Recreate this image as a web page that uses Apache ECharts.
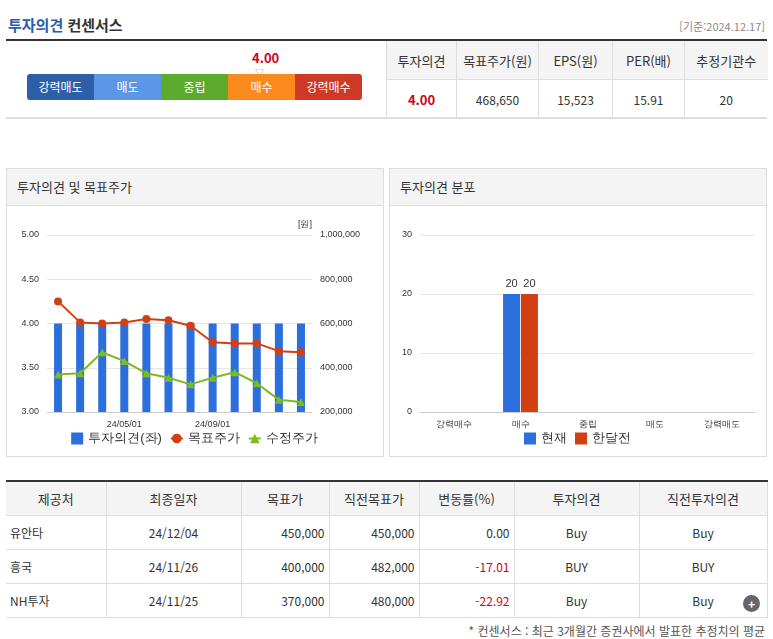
<!DOCTYPE html>
<html lang="ko">
<head>
<meta charset="UTF-8">
<title>투자의견 컨센서스</title>
<script src="https://cdn.jsdelivr.net/npm/echarts@6/dist/echarts.min.js"></script>
<style>
  body { margin: 0; width: 773px; height: 639px; position: relative; font-family: "Noto Sans CJK KR", "Noto Sans", sans-serif; font-size: 12px; color: #333; background: #fff; overflow: hidden; }
  .abs { position: absolute; }
  table { border-collapse: collapse; table-layout: fixed; }
  .top td { text-align: center; height: 38px; border-left: 1px solid #ddd; padding: 0; }
  .top tr:first-child td { background: #f4f4f4; border-bottom: 1px solid #ddd; font-size: 13px; }
  .scale span { display: inline-block; width: 67px; height: 26px; line-height: 26px; text-align: center; color: #fff; font-size: 12px; }
  .panel { border: 1px solid #ddd; }
  .panel .hd { height: 36px; line-height: 36px; background: #f4f4f4; border-bottom: 1px solid #ddd; padding-left: 10px; font-size: 13px; }
  .bot td { height: 33px; padding: 0 4px; border: 1px solid #ddd; border-width: 0 1px 1px 0; font-size: 12px; }
  .bot tr:first-child td { background: #f4f4f4; text-align: center; font-size: 13px; }
</style>
</head>
<body>
<div class="abs" style="left:8px;top:14px;font-size:15px;font-weight:bold;"><span style="color:#2a5db0">투자의견</span> 컨센서스</div>
<div class="abs" style="right:8px;top:18px;color:#888;font-size:11px;">[기준:2024.12.17]</div>
<div class="abs" style="left:6px;top:39px;width:761px;height:2px;background:#333;"></div>
<div class="abs" style="left:6px;top:117px;width:761px;height:2px;background:#ddd;"></div>

<div class="abs" style="left:252px;top:48px;color:#d0021b;font-weight:bold;font-size:13px;">4.00</div>
<div class="abs" style="left:255px;top:66px;color:#999;font-size:9px;">▽</div>
<div class="abs scale" style="left:27px;top:74px;border-radius:3px;overflow:hidden;font-size:0;">
  <span style="background:#2d5fa8">강력매도</span><span style="background:#5b97e5">매도</span><span style="background:#5cab2c">중립</span><span style="background:#fb8a1d">매수</span><span style="background:#cf3a26">강력매수</span>
</div>
<table class="abs top" style="left:386px;top:41px;width:381px;">
  <colgroup><col style="width:70px"><col style="width:82px"><col style="width:74px"><col style="width:72px"><col style="width:83px"></colgroup>
  <tr><td>투자의견</td><td>목표주가(원)</td><td>EPS(원)</td><td>PER(배)</td><td>추정기관수</td></tr>
  <tr><td style="color:#d0021b;font-weight:bold;font-size:13px;">4.00</td><td>468,650</td><td>15,523</td><td>15.91</td><td>20</td></tr>
</table>

<div class="abs panel" style="left:6px;top:168px;width:376px;height:287px;"><div class="hd">투자의견 및 목표주가</div></div>
<div class="abs panel" style="left:389px;top:168px;width:376px;height:287px;"><div class="hd">투자의견 분포</div></div>
<div id="c1" class="abs" style="left:7px;top:206px;width:375px;height:248px;"></div>
<div id="c2" class="abs" style="left:390px;top:206px;width:375px;height:248px;"></div>

<table class="abs bot" style="left:6px;top:480px;width:761px;border-top:2px solid #333;">
  <colgroup><col style="width:100px"><col style="width:135px"><col style="width:88px"><col style="width:90px"><col style="width:95px"><col style="width:125px"><col style="width:128px"></colgroup>
  <tr><td>제공처</td><td>최종일자</td><td>목표가</td><td>직전목표가</td><td>변동률(%)</td><td>투자의견</td><td>직전투자의견</td></tr>
  <tr><td>유안타</td><td align="center">24/12/04</td><td align="right">450,000</td><td align="right">450,000</td><td align="right">0.00</td><td align="center">Buy</td><td align="center">Buy</td></tr>
  <tr><td>흥국</td><td align="center">24/11/26</td><td align="right">400,000</td><td align="right">482,000</td><td align="right" style="color:#d0021b">-17.01</td><td align="center">BUY</td><td align="center">BUY</td></tr>
  <tr><td>NH투자</td><td align="center">24/11/25</td><td align="right">370,000</td><td align="right">480,000</td><td align="right" style="color:#d0021b">-22.92</td><td align="center">Buy</td><td align="center">Buy</td></tr>
</table>
<div class="abs" style="left:743px;top:595px;width:17px;height:17px;border-radius:50%;background:#666;color:#fff;text-align:center;line-height:17px;font-weight:bold;">+</div>
<div class="abs" style="right:8px;top:622px;color:#555;font-size:12px;">* 컨센서스 : 최근 3개월간 증권사에서 발표한 추정치의 평균</div>

<script>
  const dates = ['', '', '', '24/05/01', '', '', '', '24/09/01', '', '', '', ''];
  const opinion = [4, 4, 4, 4, 4, 4, 4, 4, 4, 4, 4, 4];
  const targetPrice = [700000, 605000, 600000, 605000, 620000, 615000, 590000, 515000, 510000, 510000, 475000, 470000];
  const adjPrice = [370000, 375000, 470000, 430000, 375000, 355000, 325000, 355000, 380000, 330000, 255000, 245000];

  const distCats = ['강력매수', '매수', '중립', '매도', '강력매도'];
  const distNow = [0, 20, 0, 0, 0];
  const distPrev = [0, 20, 0, 0, 0];

  const small = { fontSize: 9, color: '#333' };

  let c1 = echarts.init(document.getElementById('c1'));
  c1.setOption({
    animation: false,
    grid: { left: 40, right: 70, top: 29, bottom: 42 },
    legend: {
      bottom: 4, itemWidth: 12, itemHeight: 12, itemGap: 8,
      textStyle: { fontSize: 13, color: '#333' },
      data: [{ name: '투자의견(좌)', icon: 'rect' }, '목표주가', '수정주가']
    },
    xAxis: {
      type: 'category', data: dates,
      axisTick: { show: false }, axisLine: { lineStyle: { color: '#ccc' } },
      axisLabel: { fontSize: 9, color: '#333', interval: 0 }
    },
    yAxis: [
      { type: 'value', min: 3, max: 5, interval: 0.5, axisLabel: { ...small, formatter: v => v.toFixed(2) }, splitLine: { lineStyle: { color: '#e6e6e6' } } },
      { type: 'value', min: 200000, max: 1000000, interval: 200000, name: '[원]', nameGap: 6, nameTextStyle: { fontSize: 9, color: '#333', align: 'right' }, axisLabel: { ...small, formatter: v => v.toLocaleString('en-US') }, splitLine: { show: false } }
    ],
    series: [
      { name: '투자의견(좌)', type: 'bar', data: opinion, barWidth: 8, itemStyle: { color: '#2b6fdc' } },
      { name: '목표주가', type: 'line', yAxisIndex: 1, data: targetPrice, symbol: 'circle', symbolSize: 8, color: '#d23f12', lineStyle: { width: 2 } },
      { name: '수정주가', type: 'line', yAxisIndex: 1, data: adjPrice, symbol: 'triangle', symbolSize: 8, color: '#7dbb1e', lineStyle: { width: 2 } }
    ]
  });

  let c2 = echarts.init(document.getElementById('c2'));
  c2.setOption({
    animation: false,
    grid: { left: 30, right: 10, top: 29, bottom: 42 },
    legend: {
      bottom: 4, itemWidth: 12, itemHeight: 12, icon: 'rect',
      textStyle: { fontSize: 13, color: '#333' }, data: ['현재', '한달전']
    },
    xAxis: {
      type: 'category', data: distCats,
      axisTick: { show: false }, axisLine: { lineStyle: { color: '#ccc' } },
      axisLabel: { fontSize: 9, color: '#333' }
    },
    yAxis: { type: 'value', min: 0, max: 30, interval: 10, axisLabel: small, splitLine: { lineStyle: { color: '#e6e6e6' } } },
    series: [
      { name: '현재', type: 'bar', data: distNow, barWidth: 17, barGap: '5%', itemStyle: { color: '#2b6fdc' }, label: { show: true, position: 'top', fontSize: 11, formatter: p => p.value ? p.value : '' } },
      { name: '한달전', type: 'bar', data: distPrev, barWidth: 17, itemStyle: { color: '#d23f12' }, label: { show: true, position: 'top', fontSize: 11, formatter: p => p.value ? p.value : '' } }
    ]
  });
</script>
</body>
</html>
